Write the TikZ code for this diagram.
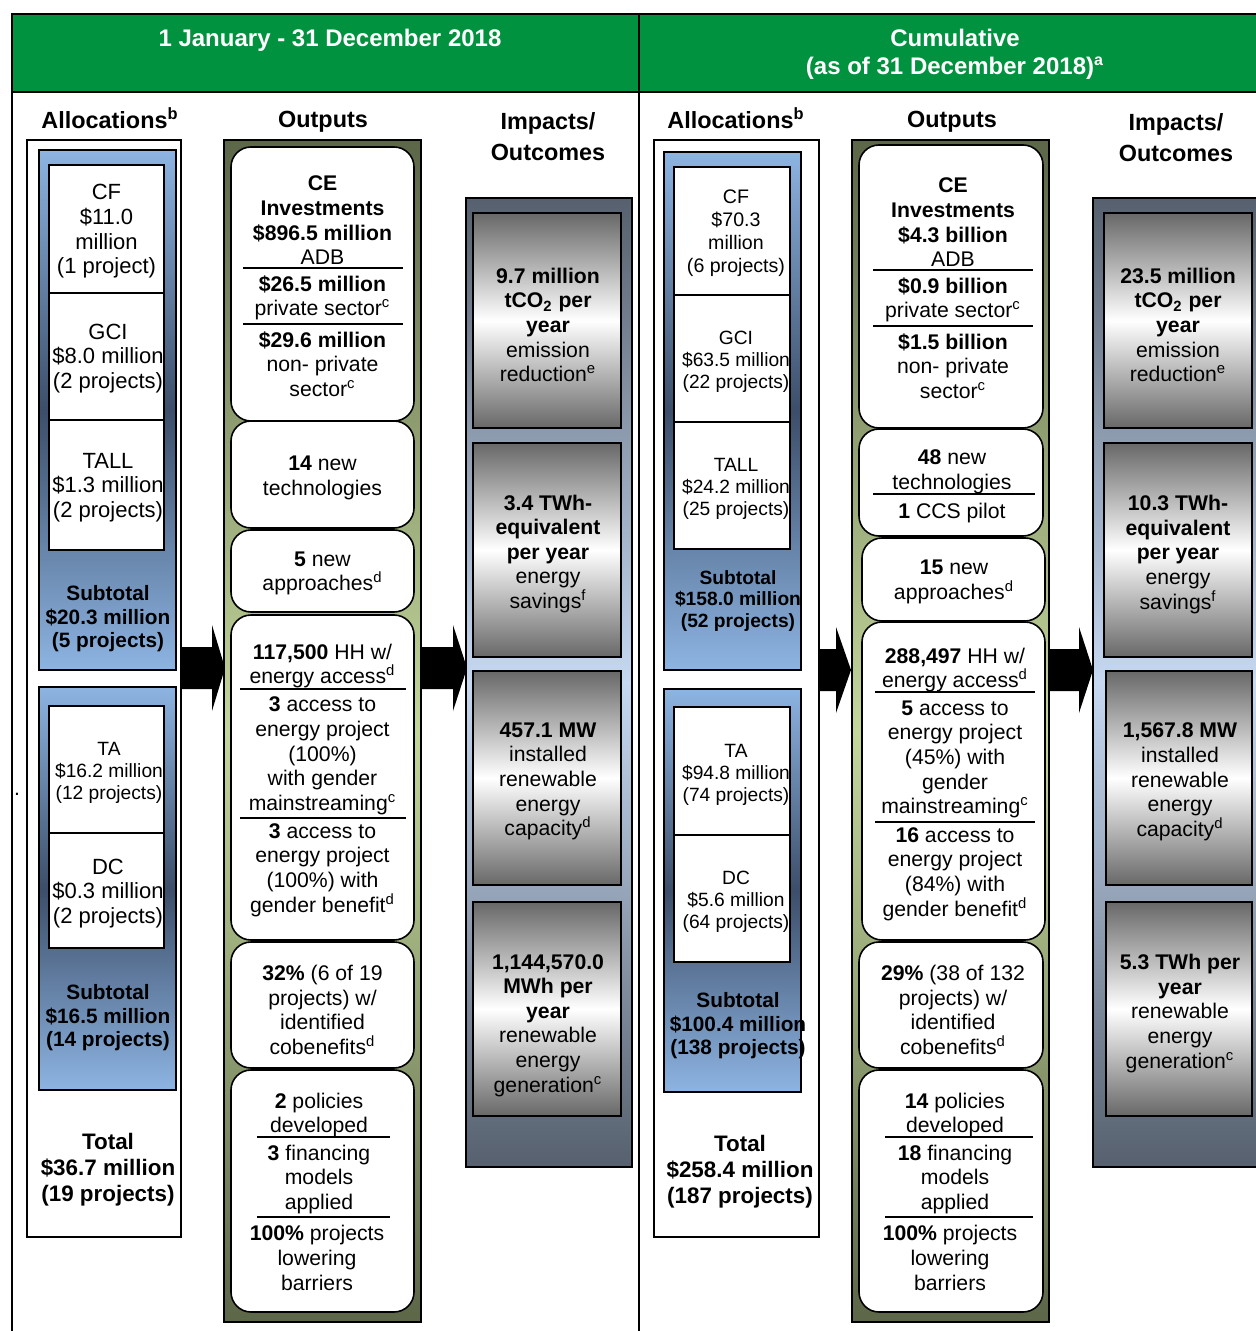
\documentclass[tikz,border=0pt]{standalone}
\usepackage{fontspec}
\setmainfont{Liberation Sans}
\usepackage{tikz}
\usetikzlibrary{shapes}

\definecolor{hgreen}{RGB}{0,146,63}
\definecolor{blueL}{RGB}{141,180,226}
\definecolor{blueD}{RGB}{60,78,105}
\definecolor{oliveD}{RGB}{92,102,72}
\definecolor{oliveL}{RGB}{196,215,155}
\definecolor{slateD}{RGB}{86,96,110}
\definecolor{slateL}{RGB}{198,217,241}
\definecolor{grayD}{RGB}{104,104,104}

\tikzset{
  hdr/.style={align=center, inner sep=0pt, yshift=-1pt, text=white, font=\fontsize{12}{14}\bfseries},
  colhead/.style={align=center, inner sep=0pt, yshift=-1.2pt, font=\fontsize{11.7}{15.5}\bfseries},
  txt/.style={align=center, inner sep=0pt, yshift=-1.2pt, font=\fontsize{10.6}{12.3}\selectfont},
  alloctxt/.style={align=center, inner sep=0pt, yshift=-1.2pt, font=\fontsize{11}{12.3}\selectfont},
  smalltxt/.style={align=center, inner sep=0pt, yshift=-1.2pt, font=\fontsize{9.6}{11}\selectfont},
  subtxt/.style={align=center, inner sep=0pt, yshift=-1.2pt, font=\fontsize{10.4}{11.8}\bfseries},
  rsubtxt/.style={align=center, inner sep=0pt, yshift=-1.2pt, font=\fontsize{9.6}{10.8}\bfseries},
  totaltxt/.style={align=center, inner sep=0pt, yshift=-1.2pt, font=\fontsize{11.2}{13}\bfseries},
  allocframe/.style={draw, line width=0.6pt, fill=white},
  bluebox/.style={draw, line width=0.9pt, top color=blueL, bottom color=blueL, middle color=blueD},
  whitebox/.style={draw, line width=0.8pt, fill=white},
  outcol/.style={draw, line width=0.8pt, top color=oliveD, bottom color=oliveD, middle color=oliveL},
  outbox/.style={draw, line width=0.8pt, fill=white, rounded corners=10pt},
  impcol/.style={draw, line width=0.8pt, top color=slateD, bottom color=slateD, middle color=slateL},
  impbox/.style={draw, line width=0.8pt, top color=grayD, bottom color=grayD, middle color=white},
  rule/.style={line width=0.8pt}
}

\begin{document}
\begin{tikzpicture}[x=0.5pt, y=-0.5pt]
\useasboundingbox (0,0) rectangle (1255,1331);

% header band
\fill[hgreen] (12,14) rectangle (1262,92);
\draw[line width=1.2pt] (12,1340) -- (12,14) -- (1262,14);
\draw[line width=1pt] (12,92) -- (1262,92);
\draw[line width=1pt] (639,14) -- (639,1340);
\node[hdr] (hleft) at (330,38) {1 January - 31 December 2018};
\node[hdr] (hright) at (955,52) {Cumulative\\(as of 31 December 2018)\textsuperscript{a}};

% column heads
\node[colhead] (lalloc) at (110,115.5) {Allocations\textsuperscript{b}};
\node[colhead] (lout) at (323,119.5) {Outputs};
\node[colhead] (limp) at (548,134.5) {Impacts/\\Outcomes};
\node[colhead] (ralloc) at (736,115.5) {Allocations\textsuperscript{b}};
\node[colhead] (rout) at (952,119.5) {Outputs};
\node[colhead] (rimp) at (1176,135) {Impacts/\\Outcomes};

% ---------- left: allocations
\draw[allocframe] (27,140) rectangle (181,1237);
\draw[bluebox] (39,150) rectangle (176,670);
\draw[whitebox] (49,165) rectangle (164,293);
\draw[whitebox] (49,293) rectangle (164,420);
\draw[whitebox] (49,420) rectangle (164,550);
\node[alloctxt] (lcf) at (106.5,229) {CF\\\$11.0\\million\\(1 project)};
\node[alloctxt] (lgci) at (108,356) {GCI\\\$8.0 million\\(2 projects)};
\node[alloctxt] (ltall) at (108,485) {TALL\\\$1.3 million\\(2 projects)};
\node[subtxt] (lsub1) at (108,616.5) {Subtotal\\\$20.3 million\\(5 projects)};
\draw[bluebox] (39,687) rectangle (176,1090);
\draw[whitebox] (49,706) rectangle (164,833);
\draw[whitebox] (49,833) rectangle (164,948);
\node[smalltxt] (lta) at (109,770) {TA\\\$16.2 million\\(12 projects)};
\node[alloctxt] (ldc) at (108,891) {DC\\\$0.3 million\\(2 projects)};
\node[subtxt] (lsub2) at (108,1015.5) {Subtotal\\\$16.5 million\\(14 projects)};
\node[totaltxt] (ltot) at (108,1167) {Total\\\$36.7 million\\(19 projects)};
\node[txt] (dot) at (17,792) {.};

% ---------- left: outputs
\draw[outcol] (224,140) rectangle (421,1322);
\draw[outbox] (231,147) rectangle (414,421);
\node[txt] (lo1a) at (322.5,218) {\textbf{CE}\\\textbf{Investments}\\\textbf{\$896.5 million}\\ADB};
\draw[rule] (243,268) -- (403,268);
\node[txt] (lo1b) at (322.5,295.5) {\textbf{\$26.5 million}\\private sector\textsuperscript{c}};
\draw[rule] (243,324) -- (403,324);
\node[txt] (lo1c) at (322.5,361.5) {\textbf{\$29.6 million}\\non- private\\sector\textsuperscript{c}};
\draw[outbox] (231,421) rectangle (414,528);
\node[txt] (lo2) at (322.5,475.5) {\textbf{14} new\\technologies};
\draw[outbox] (231,530) rectangle (414,612);
\node[txt] (lo3) at (322.5,571) {\textbf{5} new\\approaches\textsuperscript{d}};
\draw[outbox] (231,615) rectangle (414,940);
\node[txt] (lo4a) at (322.5,663.5) {\textbf{117,500} HH w/\\energy access\textsuperscript{d}};
\draw[rule] (240,689) -- (406,689);
\node[txt] (lo4b) at (322.5,753.5) {\textbf{3} access to\\energy project\\(100\%)\\with gender\\mainstreaming\textsuperscript{c}};
\draw[rule] (240,818) -- (406,818);
\node[txt] (lo4c) at (322.5,867.5) {\textbf{3} access to\\energy project\\(100\%) with\\gender benefit\textsuperscript{d}};
\draw[outbox] (231,942) rectangle (414,1068);
\node[txt] (lo5) at (322.5,1007.5) {\textbf{32\%} (6 of 19\\projects) w/\\identified\\cobenefits\textsuperscript{d}};
\draw[outbox] (231,1070) rectangle (414,1312);
\node[txt] (lo6a) at (319,1112.5) {\textbf{2} policies\\developed};
\draw[rule] (257,1137) -- (390,1137);
\node[txt] (lo6b) at (319,1177) {\textbf{3} financing\\models\\applied};
\draw[rule] (257,1217) -- (390,1217);
\node[txt] (lo6c) at (317,1255.5) {\textbf{100\%} projects\\lowering\\barriers};

% ---------- left: impacts
\draw[impcol] (466,198) rectangle (632,1167);
\draw[impbox] (473,213) rectangle (621,428);
\node[txt] (li1) at (548,322.5) {\textbf{9.7 million}\\\textbf{tCO\textsubscript{2} per}\\\textbf{year}\\emission\\reduction\textsuperscript{e}};
\draw[impbox] (473,443) rectangle (621,657);
\node[txt] (li2) at (548,551.5) {\textbf{3.4 TWh-}\\\textbf{equivalent}\\\textbf{per year}\\energy\\savings\textsuperscript{f}};
\draw[impbox] (473,671) rectangle (621,885);
\node[txt] (li3) at (548,779) {\textbf{457.1 MW}\\installed\\renewable\\energy\\capacity\textsuperscript{d}};
\draw[impbox] (473,902) rectangle (621,1116);
\node[txt] (li4) at (548,1023) {\textbf{1,144,570.0}\\\textbf{MWh per}\\\textbf{year}\\renewable\\energy\\generation\textsuperscript{c}};

% left arrows
\fill (181,647) -- (212,647) -- (212,625) -- (225,668) -- (212,711) -- (212,689) -- (181,689) -- cycle;
\fill (421,647) -- (453,647) -- (453,625) -- (467,668) -- (453,711) -- (453,689) -- (421,689) -- cycle;

% ---------- right: allocations
\draw[allocframe] (654,140) rectangle (819,1237);
\draw[bluebox] (664,152) rectangle (801,670);
\draw[whitebox] (674,167) rectangle (790,295);
\draw[whitebox] (674,295) rectangle (790,422);
\draw[whitebox] (674,422) rectangle (790,549);
\node[smalltxt, font=\fontsize{9.8}{11.5}\selectfont] (rcf) at (736,231) {CF\\\$70.3\\million\\(6 projects)};
\node[smalltxt] (rgci) at (736,359) {GCI\\\$63.5 million\\(22 projects)};
\node[smalltxt] (rtall) at (736,486.5) {TALL\\\$24.2 million\\(25 projects)};
\node[rsubtxt] (rsub1) at (738,598.5) {Subtotal\\\$158.0 million\\(52 projects)};
\draw[bluebox] (664,689) rectangle (801,1092);
\draw[whitebox] (674,707) rectangle (790,835);
\draw[whitebox] (674,835) rectangle (790,962);
\node[smalltxt] (rta) at (736,772) {TA\\\$94.8 million\\(74 projects)};
\node[smalltxt] (rdc) at (736,899) {DC\\\$5.6 million\\(64 projects)};
\node[subtxt] (rsub2) at (738,1023.5) {Subtotal\\\$100.4 million\\(138 projects)};
\node[totaltxt] (rtot) at (740,1169) {Total\\\$258.4 million\\(187 projects)};

% ---------- right: outputs
\draw[outcol] (852,140) rectangle (1049,1322);
\draw[outbox] (859,145) rectangle (1043,428);
\node[txt] (ro1a) at (953,220) {\textbf{CE}\\\textbf{Investments}\\\textbf{\$4.3 billion}\\ADB};
\draw[rule] (873,270) -- (1033,270);
\node[txt] (ro1b) at (953,297.5) {\textbf{\$0.9 billion}\\private sector\textsuperscript{c}};
\draw[rule] (873,326) -- (1033,326);
\node[txt] (ro1c) at (953,363.5) {\textbf{\$1.5 billion}\\non- private\\sector\textsuperscript{c}};
\draw[outbox] (859,429) rectangle (1043,536);
\node[txt] (ro2a) at (952,469.5) {\textbf{48} new\\technologies};
\draw[rule] (873,494) -- (1035,494);
\node[txt] (ro2b) at (952,511) {\textbf{1} CCS pilot};
\draw[outbox] (862,538) rectangle (1045,621);
\node[txt] (ro3) at (954,579.5) {\textbf{15} new\\approaches\textsuperscript{d}};
\draw[outbox] (862,622) rectangle (1045,940);
\node[txt] (ro4a) at (955,667.5) {\textbf{288,497} HH w/\\energy access\textsuperscript{d}};
\draw[rule] (875,692) -- (1035,692);
\node[txt] (ro4b) at (955,757) {\textbf{5} access to\\energy project\\(45\%) with\\gender\\mainstreaming\textsuperscript{c}};
\draw[rule] (875,822) -- (1035,822);
\node[txt] (ro4c) at (955,871.5) {\textbf{16} access to\\energy project\\(84\%) with\\gender benefit\textsuperscript{d}};
\draw[outbox] (859,942) rectangle (1043,1068);
\node[txt] (ro5) at (953,1007.5) {\textbf{29\%} (38 of 132\\projects) w/\\identified\\cobenefits\textsuperscript{d}};
\draw[outbox] (859,1070) rectangle (1043,1312);
\node[txt] (ro6a) at (955,1112.5) {\textbf{14} policies\\developed};
\draw[rule] (885,1137) -- (1033,1137);
\node[txt] (ro6b) at (955,1177) {\textbf{18} financing\\models\\applied};
\draw[rule] (885,1217) -- (1033,1217);
\node[txt] (ro6c) at (950,1255.5) {\textbf{100\%} projects\\lowering\\barriers};

% ---------- right: impacts
\draw[impcol] (1093,198) rectangle (1265,1167);
\draw[impbox] (1104,213) rectangle (1252,428);
\node[txt] (ri1) at (1178,322.5) {\textbf{23.5 million}\\\textbf{tCO\textsubscript{2} per}\\\textbf{year}\\emission\\reduction\textsuperscript{e}};
\draw[impbox] (1104,443) rectangle (1252,657);
\node[txt] (ri2) at (1178,552) {\textbf{10.3 TWh-}\\\textbf{equivalent}\\\textbf{per year}\\energy\\savings\textsuperscript{f}};
\draw[impbox] (1106,671) rectangle (1252,885);
\node[txt] (ri3) at (1180,779.5) {\textbf{1,567.8 MW}\\installed\\renewable\\energy\\capacity\textsuperscript{d}};
\draw[impbox] (1106,902) rectangle (1252,1116);
\node[txt] (ri4) at (1180,1011) {\textbf{5.3 TWh per}\\\textbf{year}\\renewable\\energy\\generation\textsuperscript{c}};

% right arrows
\fill (819,649) -- (836,649) -- (836,627) -- (851,670) -- (836,713) -- (836,691) -- (819,691) -- cycle;
\fill (1049,649) -- (1079,649) -- (1079,627) -- (1093,670) -- (1079,713) -- (1079,691) -- (1049,691) -- cycle;

\end{tikzpicture}
\end{document}
